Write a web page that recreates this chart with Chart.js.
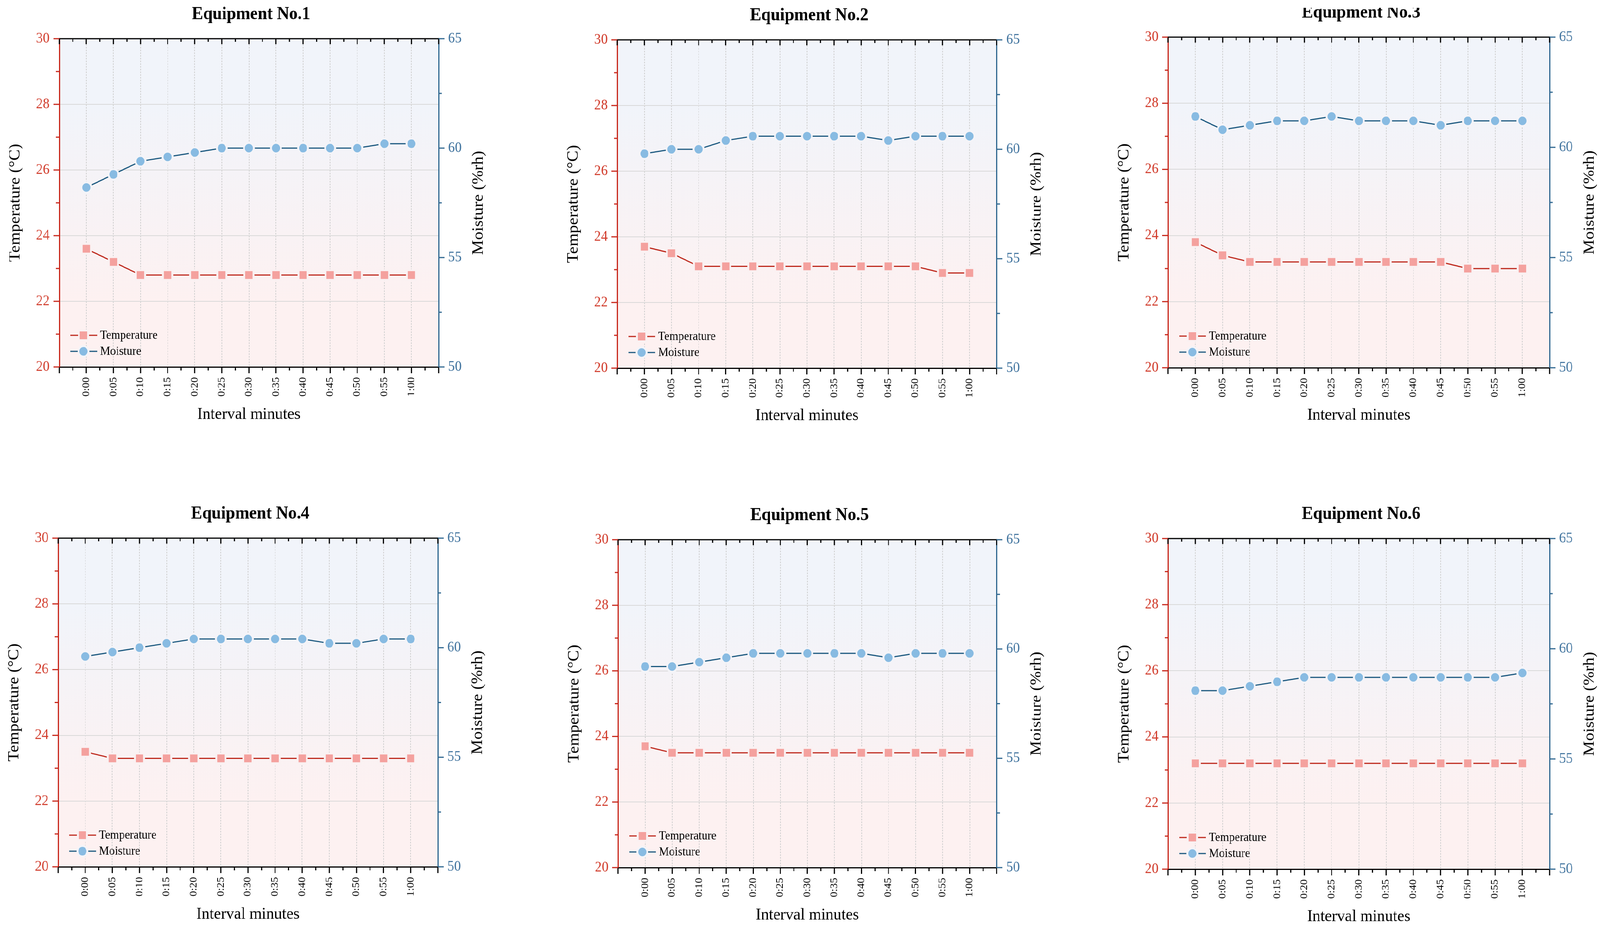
<!DOCTYPE html>
<html>
<head>
<meta charset="utf-8">
<title>Equipment temperature and moisture</title>
<script src="https://cdn.jsdelivr.net/npm/chart.js@4.4.1/dist/chart.umd.min.js"></script>
<style>
  html, body { margin: 0; padding: 0; background: #fff; overflow: hidden; }
  #page { position: absolute; left: 0; top: 0; width: 4349px; height: 2372px;
          overflow: hidden; transform-origin: 0 0; background: #fff; }
  canvas { position: absolute; }
</style>
</head>
<body>
<div id="page"></div>
<script>
// data
const timeLabels = ["0:00", "0:05", "0:10", "0:15", "0:20", "0:25", "0:30",
                    "0:35", "0:40", "0:45", "0:50", "0:55", "1:00"];
const equipmentNames = ["Equipment No.1", "Equipment No.2", "Equipment No.3",
                        "Equipment No.4", "Equipment No.5", "Equipment No.6"];

const eq1Temp  = [23.6, 23.2, 22.8, 22.8, 22.8, 22.8, 22.8, 22.8, 22.8, 22.8, 22.8, 22.8, 22.8];
const eq1Moist = [58.2, 58.8, 59.4, 59.6, 59.8, 60.0, 60.0, 60.0, 60.0, 60.0, 60.0, 60.2, 60.2];
const eq2Temp  = [23.7, 23.5, 23.1, 23.1, 23.1, 23.1, 23.1, 23.1, 23.1, 23.1, 23.1, 22.9, 22.9];
const eq2Moist = [59.8, 60.0, 60.0, 60.4, 60.6, 60.6, 60.6, 60.6, 60.6, 60.4, 60.6, 60.6, 60.6];
const eq3Temp  = [23.8, 23.4, 23.2, 23.2, 23.2, 23.2, 23.2, 23.2, 23.2, 23.2, 23.0, 23.0, 23.0];
const eq3Moist = [61.4, 60.8, 61.0, 61.2, 61.2, 61.4, 61.2, 61.2, 61.2, 61.0, 61.2, 61.2, 61.2];
const eq4Temp  = [23.5, 23.3, 23.3, 23.3, 23.3, 23.3, 23.3, 23.3, 23.3, 23.3, 23.3, 23.3, 23.3];
const eq4Moist = [59.6, 59.8, 60.0, 60.2, 60.4, 60.4, 60.4, 60.4, 60.4, 60.2, 60.2, 60.4, 60.4];
const eq5Temp  = [23.7, 23.5, 23.5, 23.5, 23.5, 23.5, 23.5, 23.5, 23.5, 23.5, 23.5, 23.5, 23.5];
const eq5Moist = [59.2, 59.2, 59.4, 59.6, 59.8, 59.8, 59.8, 59.8, 59.8, 59.6, 59.8, 59.8, 59.8];
const eq6Temp  = [23.2, 23.2, 23.2, 23.2, 23.2, 23.2, 23.2, 23.2, 23.2, 23.2, 23.2, 23.2, 23.2];
const eq6Moist = [58.1, 58.1, 58.3, 58.5, 58.7, 58.7, 58.7, 58.7, 58.7, 58.7, 58.7, 58.7, 58.9];

const tempSeries = [eq1Temp, eq2Temp, eq3Temp, eq4Temp, eq5Temp, eq6Temp];
const moistSeries = [eq1Moist, eq2Moist, eq3Moist, eq4Moist, eq5Moist, eq6Moist];

// plot area of each panel on the page
const panelBoxes = [
  { left: 161,  top: 99,   width: 1031, height: 840 },
  { left: 1678, top: 102,  width: 1031, height: 840 },
  { left: 3175, top: 95,   width: 1037, height: 846, clipTop: 20 },
  { left: 158,  top: 1377, width: 1032, height: 841 },
  { left: 1680, top: 1381, width: 1029, height: 839 },
  { left: 3175, top: 1378, width: 1037, height: 846 },
];

const FONT = "'Liberation Serif', 'Times New Roman', serif";
const RED_AXIS = "#c8271b", RED_TEXT = "#d23f2f";
const BLUE_AXIS = "#2f6790", BLUE_TEXT = "#4476a0";
const TEMP_LINE = "#be2a1e", TEMP_MARK = "#f4a19e";
const MOIST_LINE = "#1d5a80", MOIST_MARK = "#88bbe2";

Chart.defaults.font.family = FONT;

// stretch the 4349x2372 page over the viewport we actually get
const page = document.getElementById("page");
const sx = window.innerWidth / 4349, sy = window.innerHeight / 2372;
if (sx > 0 && sy > 0 && (Math.abs(sx - 1) > 0.002 || Math.abs(sy - 1) > 0.002)) {
  page.style.transform = "scale(" + sx + "," + sy + ")";
}

function line(ctx, x1, y1, x2, y2) {
  ctx.beginPath();
  ctx.moveTo(x1, y1);
  ctx.lineTo(x2, y2);
  ctx.stroke();
}

const panelDecor = {
  id: "panelDecor",
  beforeDraw(chart) {
    const { ctx, chartArea: a } = chart;
    const g = ctx.createLinearGradient(0, a.top, 0, a.bottom);
    g.addColorStop(0, "#f1f4fa");
    g.addColorStop(0.2, "#f1f4fa");
    g.addColorStop(0.8, "#fdf1f1");
    g.addColorStop(1, "#fdf1f1");
    ctx.save();
    ctx.fillStyle = g;
    ctx.fillRect(a.left, a.top, a.right - a.left, a.bottom - a.top);
    ctx.restore();
  },
  afterDraw(chart, args, opts) {
    const { ctx, chartArea: a } = chart;
    const xs = chart.scales.x, ys = chart.scales.y, ys1 = chart.scales.y1;
    const midX = (a.left + a.right) / 2, midY = (a.top + a.bottom) / 2;
    ctx.save();
    ctx.lineWidth = 3;

    // top frame line
    ctx.strokeStyle = "#000";
    line(ctx, a.left - 1.5, a.top, a.right + 1.5, a.top);

    // x tick marks, bottom outward and top inward
    for (let v = -1; v <= 13; v += 0.5) {
      const px = xs.getPixelForValue(v);
      const major = Number.isInteger(v);
      line(ctx, px, a.bottom, px, a.bottom + (major ? 16 : 9));
      line(ctx, px, a.top, px, a.top + (major ? 14 : 8));
    }
    // left ticks
    ctx.strokeStyle = RED_AXIS;
    for (let v = 20; v <= 30; v += 1) {
      const py = ys.getPixelForValue(v);
      line(ctx, a.left, py, a.left - (v % 2 === 0 ? 16 : 9), py);
    }
    // right ticks
    ctx.strokeStyle = BLUE_AXIS;
    for (let v = 50; v <= 65; v += 2.5) {
      const py = ys1.getPixelForValue(v);
      line(ctx, a.right, py, a.right + (v % 5 === 0 ? 16 : 9), py);
    }

    // legend
    const rowsY = [a.bottom - 81, a.bottom - 40];
    chart.data.datasets.forEach((ds, i) => {
      const y = rowsY[i];
      ctx.strokeStyle = ds.borderColor;
      ctx.lineWidth = 3;
      line(ctx, a.left + 30, y, a.left + 103, y);
      ctx.fillStyle = ds.pointBackgroundColor;
      ctx.strokeStyle = ds.pointBorderColor;
      ctx.lineWidth = ds.pointBorderWidth;
      Chart.helpers.drawPoint(ctx, {
        pointStyle: ds.pointStyle, radius: ds.pointRadius,
        rotation: 0, borderWidth: ds.pointBorderWidth
      }, a.left + 66, y);
      ctx.fillStyle = "#000";
      ctx.font = "31px " + FONT;
      ctx.textAlign = "left";
      ctx.textBaseline = "middle";
      ctx.fillText(ds.label, a.left + 111, y + 1);
    });

    // titles
    ctx.fillStyle = "#000";
    ctx.textAlign = "center";
    ctx.textBaseline = "middle";
    ctx.font = "bold 46px " + FONT;
    ctx.fillText(opts.title, midX + 6, a.top - 62);

    ctx.font = "43px " + FONT;
    ctx.fillText("Interval minutes", midX, a.bottom + 122);

    ctx.save();
    ctx.translate(a.left - 119, midY);
    ctx.rotate(-Math.PI / 2);
    ctx.fillText("Temperature (\u00B0C)", 0, 0);
    ctx.restore();

    ctx.save();
    ctx.translate(a.right + 109, midY);
    ctx.rotate(-Math.PI / 2);
    ctx.fillText("Moisture (%rh)", 0, 0);
    ctx.restore();

    ctx.restore();
  }
};

function makeChart(i) {
  const box = panelBoxes[i];
  const padL = 161, padR = 136, padB = 160;
  const cTop = box.clipTop !== undefined ? box.clipTop : box.top - 99;
  const padT = box.top - cTop;
  const cw = padL + box.width + padR;
  const ch = padT + box.height + padB;

  const canvas = document.createElement("canvas");
  canvas.width = cw;
  canvas.height = ch;
  canvas.style.left = (box.left - padL) + "px";
  canvas.style.top = cTop + "px";
  canvas.style.width = cw + "px";
  canvas.style.height = ch + "px";
  page.appendChild(canvas);

  new Chart(canvas.getContext("2d"), {
    type: "line",
    data: {
      datasets: [
        {
          label: "Temperature",
          data: tempSeries[i].map((v, k) => ({ x: k, y: v })),
          yAxisID: "y",
          borderColor: TEMP_LINE,
          backgroundColor: TEMP_MARK,
          borderWidth: 3,
          pointStyle: "rect",
          pointRadius: 17.7,
          pointBackgroundColor: TEMP_MARK,
          pointBorderColor: "#faf1f2",
          pointBorderWidth: 5,
          tension: 0,
        },
        {
          label: "Moisture",
          data: moistSeries[i].map((v, k) => ({ x: k, y: v })),
          yAxisID: "y1",
          borderColor: MOIST_LINE,
          backgroundColor: MOIST_MARK,
          borderWidth: 3,
          pointStyle: "circle",
          pointRadius: 13.5,
          pointBackgroundColor: MOIST_MARK,
          pointBorderColor: "#f4f4f8",
          pointBorderWidth: 5,
          tension: 0,
        },
      ],
    },
    options: {
      responsive: false,
      animation: false,
      events: [],
      layout: { padding: { left: 0, right: 0, top: padT, bottom: 0 } },
      plugins: {
        legend: { display: false },
        tooltip: { enabled: false },
        panelDecor: { title: equipmentNames[i] },
      },
      scales: {
        x: {
          type: "linear",
          min: -1,
          max: 13,
          afterFit: (s) => { s.height = padB; },
          ticks: {
            stepSize: 1,
            autoSkip: false,
            minRotation: 90,
            maxRotation: 90,
            padding: 26,
            color: "#000",
            font: { size: 28, family: FONT },
            callback: (v) => (v >= 0 && v < timeLabels.length ? timeLabels[v] : ""),
          },
          grid: {
            drawTicks: false,
            lineWidth: 2,
            color: (c) => (c.tick && c.tick.value >= 0 && c.tick.value <= 12 ? "#cfcfcf" : "rgba(0,0,0,0)"),
          },
          border: { display: true, color: "#000", width: 3, dash: [4, 3] },
        },
        y: {
          position: "left",
          min: 20,
          max: 30,
          afterFit: (s) => { s.width = padL; },
          ticks: {
            stepSize: 2,
            padding: 26,
            color: RED_TEXT,
            font: { size: 37, family: FONT },
          },
          grid: {
            drawTicks: false,
            lineWidth: 2,
            color: (c) => (c.tick && (c.tick.value === 20 || c.tick.value === 30) ? "rgba(0,0,0,0)" : "#d9d9d9"),
          },
          border: { display: true, color: RED_AXIS, width: 3 },
        },
        y1: {
          position: "right",
          min: 50,
          max: 65,
          afterFit: (s) => { s.width = padR; },
          ticks: {
            stepSize: 5,
            padding: 26,
            color: BLUE_TEXT,
            font: { size: 37, family: FONT },
          },
          grid: { drawTicks: false, drawOnChartArea: false },
          border: { display: true, color: BLUE_AXIS, width: 3 },
        },
      },
    },
    plugins: [panelDecor],
  });
}

for (let i = 0; i < panelBoxes.length; i++) makeChart(i);
</script>
</body>
</html>
